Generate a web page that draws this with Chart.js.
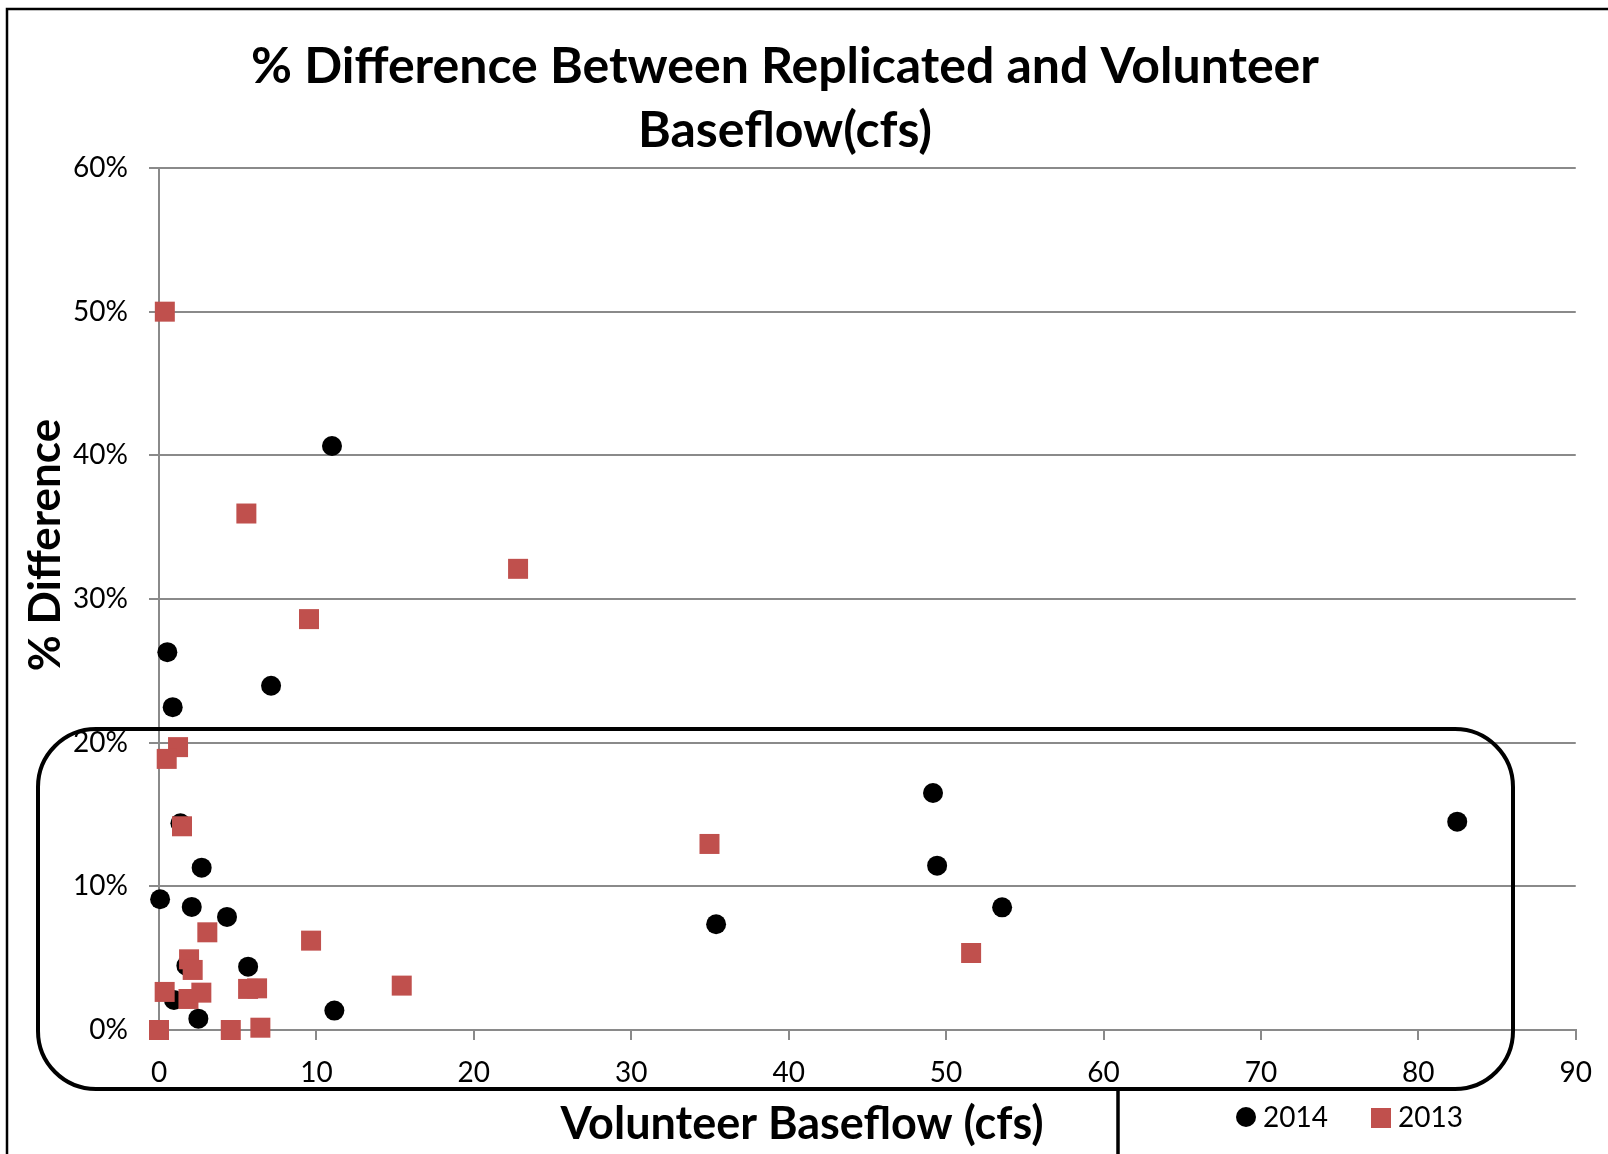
<!DOCTYPE html>
<html>
<head>
<meta charset="utf-8">
<title>% Difference Between Replicated and Volunteer Baseflow</title>
<script src="https://cdn.jsdelivr.net/npm/chart.js"></script>
<style>
  html, body { margin: 0; padding: 0; background: #fff; }
  #wrap { width: 1608px; height: 1154px; }
</style>
</head>
<body>
<div id="wrap"><canvas id="chart" width="1608" height="1154"></canvas></div>
<script>
// volunteer baseflow (cfs) and % difference
const flow2014 = [0.53, 7.12, 0.87, 1.36, 2.71, 0.07, 2.08, 4.32, 1.74, 5.66, 0.95, 11.14, 2.5, 10.99, 49.17, 82.47, 49.43, 53.56, 35.39];
const diff2014 = [26.3, 23.96, 22.47, 14.39, 11.3, 9.1, 8.57, 7.87, 4.48, 4.41, 2.09, 1.35, 0.79, 40.65, 16.5, 14.5, 11.44, 8.54, 7.36];

const flow2013 = [9.53, 1.21, 0.49, 1.46, 3.07, 9.66, 1.91, 2.14, 0.36, 1.87, 2.69, 5.66, 6.23, 15.42, 0, 4.56, 6.44, 0.37, 5.55, 22.81, 34.97, 51.59];
const diff2013 = [28.6, 19.69, 18.87, 14.18, 6.8, 6.22, 4.92, 4.18, 2.65, 2.16, 2.6, 2.86, 2.9, 3.09, 0, 0, 0.16, 50, 35.95, 32.1, 12.95, 5.36];

const seriesNames = ["2014", "2013"];
const xTicks = [0, 10, 20, 30, 40, 50, 60, 70, 80, 90];
const yTicks = [0, 10, 20, 30, 40, 50, 60];

const titleLines = ["% Difference Between Replicated and Volunteer", "Baseflow(cfs)"];
const xTitle = "Volunteer Baseflow (cfs)";
const yTitle = "% Difference";

const RED = "#C0504D";
const GRID = "#8a8a8a";

function toPoints(xs, ys) {
    return xs.map((x, i) => ({ x: x, y: ys[i] }));
}

// frame, callout box, titles and legend drawn on top of the plot
const decor = {
    id: "decor",
    beforeDraw(chart) {
        const ctx = chart.ctx;
        ctx.save();
        ctx.fillStyle = "#fff";
        ctx.fillRect(0, 0, chart.width, chart.height);
        ctx.restore();
    },
    afterDraw(chart) {
        const ctx = chart.ctx;
        ctx.save();

        // outer frame (top and left edges)
        ctx.strokeStyle = "#000";
        ctx.lineWidth = 2.5;
        ctx.beginPath();
        ctx.moveTo(7, 1154);
        ctx.lineTo(7, 9);
        ctx.lineTo(1608, 9);
        ctx.stroke();

        // rounded callout
        ctx.lineWidth = 4;
        ctx.beginPath();
        ctx.roundRect(38, 729, 1475, 360, 58);
        ctx.stroke();

        ctx.lineWidth = 3.5;
        ctx.beginPath();
        ctx.moveTo(1118, 1089);
        ctx.lineTo(1118, 1154);
        ctx.stroke();

        // titles
        ctx.fillStyle = "#000";
        ctx.textAlign = "center";
        ctx.textBaseline = "alphabetic";
        ctx.font = "bold 50px Lato";
        ctx.fillText(titleLines[0], 785, 83);
        ctx.fillText(titleLines[1], 785, 147);

        ctx.font = "bold 45px Lato";
        ctx.fillText(xTitle, 802, 1139);

        ctx.save();
        ctx.font = "bold 44px Lato";
        ctx.translate(60, 545);
        ctx.rotate(-Math.PI / 2);
        ctx.fillText(yTitle, 0, 0);
        ctx.restore();

        // legend
        ctx.textAlign = "left";
        ctx.font = "28px Lato";
        ctx.beginPath();
        ctx.arc(1246, 1117, 10, 0, Math.PI * 2);
        ctx.fill();
        ctx.fillText(seriesNames[0], 1263, 1127);
        ctx.fillStyle = RED;
        ctx.fillRect(1371, 1108, 20, 20);
        ctx.fillStyle = "#000";
        ctx.fillText(seriesNames[1], 1398, 1127);

        ctx.restore();
    }
};

new Chart(document.getElementById("chart"), {
    type: "scatter",
    data: {
        datasets: [
            {
                label: seriesNames[0],
                data: toPoints(flow2014, diff2014),
                pointStyle: "circle",
                pointRadius: 10,
                pointHoverRadius: 10,
                backgroundColor: "#000",
                borderWidth: 0,
                clip: false,
                order: 2
            },
            {
                label: seriesNames[1],
                data: toPoints(flow2013, diff2013),
                pointStyle: "rect",
                pointRadius: 14.14,
                pointHoverRadius: 14.14,
                backgroundColor: RED,
                borderWidth: 0,
                clip: false,
                order: 1
            }
        ]
    },
    options: {
        responsive: false,
        animation: false,
        layout: { padding: { top: 168, right: 32, bottom: 0, left: 0 } },
        plugins: {
            legend: { display: false },
            title: { display: false },
            tooltip: { enabled: false }
        },
        scales: {
            x: {
                type: "linear",
                min: xTicks[0],
                max: xTicks[xTicks.length - 1],
                afterBuildTicks: s => { s.ticks = xTicks.map(v => ({ value: v })); },
                afterFit: s => { s.height = 124; },
                grid: { drawOnChartArea: false, drawTicks: true, tickLength: 10, color: GRID, lineWidth: 2 },
                border: { display: true, color: GRID, width: 2 },
                ticks: { color: "#000", font: { family: "Lato", size: 28 }, padding: 16, maxRotation: 0 }
            },
            y: {
                type: "linear",
                min: yTicks[0],
                max: yTicks[yTicks.length - 1],
                afterBuildTicks: s => { s.ticks = yTicks.map(v => ({ value: v })); },
                afterFit: s => { s.width = 159; },
                grid: { drawTicks: true, tickLength: 10, color: GRID, lineWidth: 2 },
                border: { display: true, color: GRID, width: 2 },
                ticks: {
                    color: "#000",
                    font: { family: "Lato", size: 28 },
                    padding: 21,
                    callback: v => v + "%"
                }
            }
        }
    },
    plugins: [decor]
});
</script>
</body>
</html>
